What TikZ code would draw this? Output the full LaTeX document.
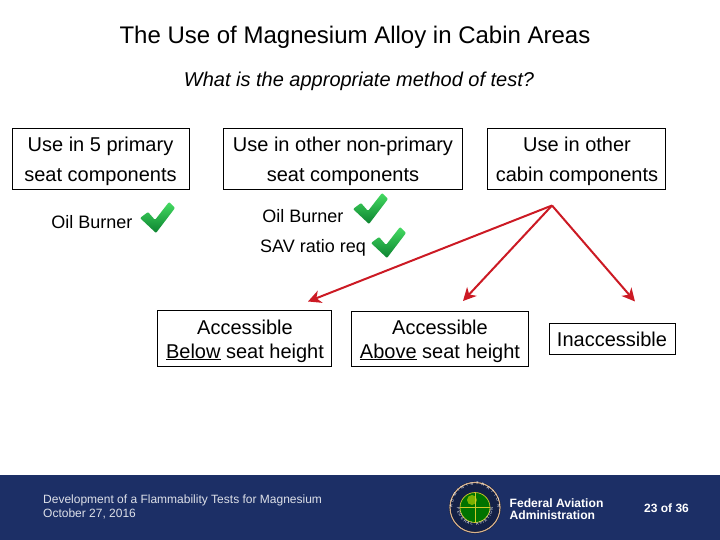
\documentclass[tikz,border=0pt]{standalone}
\usepackage{fontspec}
\setmainfont{Liberation Sans}
\usetikzlibrary{arrows.meta,decorations.text}
\definecolor{faablue}{HTML}{1C2F66}
\definecolor{arrowred}{HTML}{CC1A24}
\definecolor{ticktop}{HTML}{45DC62}
\definecolor{tickbottom}{HTML}{0C8230}
\newcommand{\fs}[1]{\fontsize{#1}{#1}\selectfont}
\newcommand{\tick}[2]{%
  \begin{scope}[shift={(#1,#2)}]
    \shade[top color=ticktop,bottom color=tickbottom,rounded corners=1pt]
      (-17,0) -- (-9,-6) -- (-2,2) -- (12,-16) -- (18,-10) -- (-1,15) -- cycle;
  \end{scope}}
\tikzset{
  x=1pt,y=-1pt,
  boxed/.style={draw=black,line width=0.8pt,fill=white,inner sep=0pt},
  label20/.style={inner sep=0pt,anchor=base,font=\fs{20}},
  label18/.style={inner sep=0pt,anchor=base,font=\fs{18}},
  redarrow/.style={draw=arrowred,line width=2pt,-{Stealth[length=13pt,width=13pt,inset=4pt]}},
  foot/.style={inner sep=0pt,anchor=base west,text=white}
}
\begin{document}
\begin{tikzpicture}
\useasboundingbox (0,0) rectangle (720,540);
\fill[white] (0,0) rectangle (720,540);
\fill[faablue] (0,475) rectangle (720,540);

\node[inner sep=0pt,anchor=base,font=\fs{24}] (title) at (355,43.5) {The Use of Magnesium Alloy in Cabin Areas};
\node[inner sep=0pt,anchor=base,font=\fs{20}\itshape] (question) at (359,87) {What is the appropriate method of test?};

\node[boxed,minimum width=177pt,minimum height=61pt] (primary) at (100.5,158.5) {};
\node[boxed,minimum width=239pt,minimum height=61pt] (nonprimary) at (342.5,158.5) {};
\node[boxed,minimum width=178pt,minimum height=61pt] (cabin) at (576,158.5) {};
\node[label20] (p1) at (100.5,152) {Use in 5 primary};
\node[label20] (p2) at (100.5,181.5) {seat components};
\node[label20] (n1) at (343,152) {Use in other non-primary};
\node[label20] (n2) at (343,181.5) {seat components};
\node[label20] (c1) at (577,152) {Use in other};
\node[label20] (c2) at (577,181.5) {cabin components};

\node[label18] (oil1) at (92,229) {Oil Burner};
\node[label18] (oil2) at (303,222.5) {Oil Burner};
\node[label18] (sav) at (313,252) {SAV ratio req};
\tick{157}{218}
\tick{370}{209}
\tick{388}{243}

\node[boxed,minimum width=174pt,minimum height=56pt] (below) at (244.5,338.5) {};
\node[label20] (b1) at (245,334.5) {Accessible};
\node[label20] (b2) at (245,358) {\underline{Below} seat height};
\node[boxed,minimum width=177pt,minimum height=55pt] (above) at (439.5,338.5) {};
\node[label20] (a1) at (440,334.5) {Accessible};
\node[label20] (a2) at (440,358) {\underline{Above} seat height};
\node[boxed,minimum width=126pt,minimum height=31pt] (inacc) at (612,339) {};
\node[label20] (i1) at (612,346.5) {Inaccessible};

\coordinate (apex) at (552,205.5);
\coordinate (endb) at (308,301.5);
\coordinate (enda) at (463,301);
\coordinate (endi) at (635,301.5);
\draw[redarrow] (apex) -- (endb);
\draw[redarrow] (apex) -- (enda);
\draw[redarrow] (apex) -- (endi);

\node[foot,text=white!85!faablue,font=\fs{12}] (ft1) at (43,503) {Development of a Flammability Tests for Magnesium};
\node[foot,text=white!85!faablue,font=\fs{12}] (ft2) at (43,517) {October 27, 2016};

% seal
\fill[faablue!50!black] (475,507.5) circle (26);
\draw[draw=brown!60!white,line width=1.2pt] (475,507.5) circle (25);
\fill[faablue!70!black] (475,507.5) circle (24);
\fill[green!45!black] (475,507.5) circle (15);
\draw[draw=yellow!80!black,line width=0.7pt] (475,507.5) circle (15);
\fill[green!30!yellow!70!black] (472,500) circle (5);
\draw[draw=yellow!80!black,line width=1pt] (460,507.5) -- (490,507.5);
\draw[draw=yellow!80!black,line width=1pt] (475,493) -- (475,522);
\path[postaction={decorate,decoration={text along path,text align={fit to path},
   text={|\fs{4}\color{white}|FEDERAL AVIATION}}}] (457,507.5) arc[start angle=180,end angle=0,radius=18];
\path[postaction={decorate,decoration={text along path,text align={fit to path},
   text={|\fs{4}\color{white}|ADMINISTRATION}}}] (452.5,507.5) arc[start angle=180,end angle=360,radius=22.5];

\node[foot,font=\fs{12.1}\bfseries] (faa1) at (509.5,507) {Federal Aviation};
\node[foot,font=\fs{12.1}\bfseries] (faa2) at (509.5,519) {Administration};
\node[foot,font=\fs{12}\bfseries] (page) at (644,512) {23 of 36};
\end{tikzpicture}
\end{document}
